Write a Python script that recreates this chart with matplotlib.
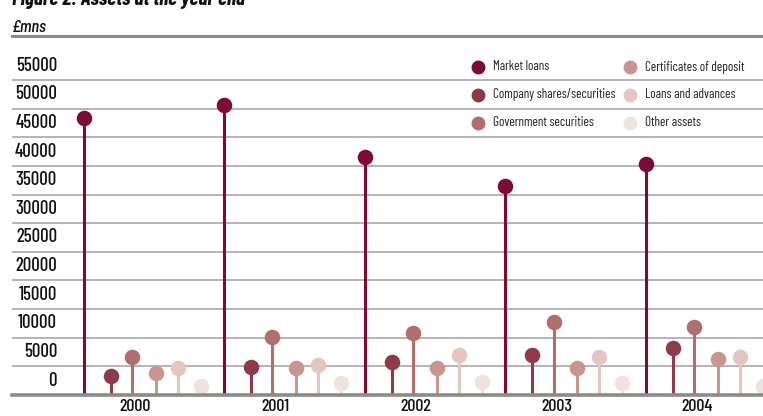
import numpy as np
import matplotlib
matplotlib.use("Agg")
import matplotlib.pyplot as plt
from matplotlib.lines import Line2D

plt.rcParams['font.family'] = ['Barlow Condensed', 'Roboto Condensed',
                               'Archivo Narrow', 'PT Sans Narrow', 'DejaVu Sans']
plt.rcParams['font.weight'] = 500

years = ['2000', '2001', '2002', '2003', '2004']
series = ['Market loans', 'Company shares/securities', 'Government securities',
          'Certificates of deposit', 'Loans and advances', 'Other assets']
colors = ['#7d0a37', '#8e3a4a', '#b06e6c', '#c9968f', '#e3c6c0', '#f0e2df']

# £mns, one list per asset type, 2000-2004
market_loans = [48400, 50600, 41500, 36500, 40300]
company_shares = [3300, 4900, 5800, 7000, 8200]
government_secs = [6600, 10100, 10800, 12700, 11900]
certificates = [3800, 4700, 4700, 4700, 6300]
loans_advances = [4700, 5200, 7000, 6600, 6600]
other_assets = [1600, 2100, 2300, 2100, 1600]
values = [market_loans, company_shares, government_secs,
          certificates, loans_advances, other_assets]

yticks = list(range(0, 60000, 5000))
offsets = [-0.363, -0.171, -0.021, 0.149, 0.306, 0.470]

W, H = 763, 416
fig = plt.figure(figsize=(W / 100, H / 100), dpi=100)
ax = fig.add_axes([12 / W, (H - 395) / H, (W - 12) / W, (395 - 51.3) / H])

x = np.arange(len(years))
ax.set_xlim(-0.875, 4.47)
ax.set_ylim(0, 60000)

# horizontal rules behind the lollipops
for v in yticks[1:]:
    ax.axhline(v, color='#b4b4b4', lw=1.4, zorder=0)
ax.axhline(0, color='#8c8c86', lw=2.6, zorder=4, clip_on=False)

for vals, off, c in zip(values, offsets, colors):
    xs = x + off
    ax.vlines(xs, 0, vals, color=c, lw=2.2, zorder=2)
    ax.scatter(xs, vals, s=125, color=c, zorder=3, linewidths=0, clip_on=False)

# value labels sit in the band above each rule
for v in yticks:
    ax.text(0.06, v + 2500, str(v), transform=ax.get_yaxis_transform(),
            ha='right', va='center', fontsize=13.5, color='#111111')

ax.set_yticks([])
ax.set_xticks(x)
ax.set_xticklabels(years, fontsize=13, color='#111111')
ax.tick_params(axis='x', length=0, pad=3.2)
for s in ax.spines.values():
    s.set_visible(False)

# legend, two columns of three
for i, (name, c) in enumerate(zip(series, colors)):
    col, row = divmod(i, 3)
    px = 478 + col * 152
    py = 67 + row * 27.8
    fig.add_artist(Line2D([px / W], [(H - py) / H], marker='o', markersize=9,
                          color=c, linestyle='none'))
    fig.text((px + 15) / W, (H - py) / H, name, ha='left', va='center',
             fontsize=9.5, weight='normal', color='#222222')

# header
fig.add_artist(Line2D([12 / W, 1.0], [(H - 36) / H] * 2, color='#8c8c86', lw=2.2))
fig.text(12 / W, (H - 28) / H, '£mns', fontsize=13, style='italic',
         ha='left', va='center', color='#111111')
fig.text(12 / W, (H - 5) / H, 'Figure 2: Assets at the year end', fontsize=15,
         style='italic', weight='bold', ha='left', va='baseline', color='#111111')

fig.savefig('out.png', dpi=100)
